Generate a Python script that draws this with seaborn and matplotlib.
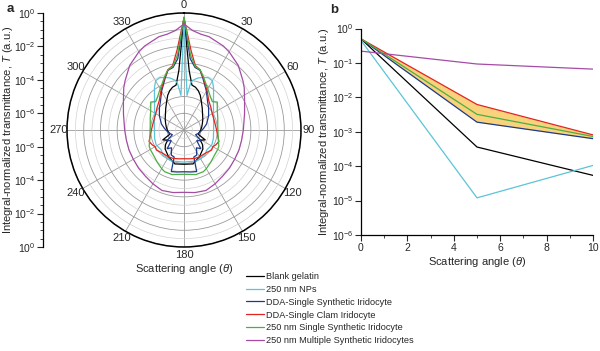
import numpy as np
import pandas as pd
import matplotlib
matplotlib.use("Agg")
import matplotlib.pyplot as plt
import seaborn as sns
from matplotlib.ticker import FixedLocator, MultipleLocator, NullFormatter

sns.set_theme(style="white")
plt.rcParams['font.family'] = ['Liberation Sans', 'DejaVu Sans']
plt.rcParams['mathtext.fontset'] = 'custom'
plt.rcParams['mathtext.rm'] = 'Liberation Sans'
plt.rcParams['mathtext.it'] = 'Liberation Sans:italic'

# series
labels = ["Blank gelatin", "250 nm NPs", "DDA-Single Synthetic Iridocyte",
          "DDA-Single Clam Iridocyte", "250 nm Single Synthetic Iridocyte",
          "250 nm Multiple Synthetic Iridocytes"]
colors = ["#000000", "#5bc4d8", "#1d3a8a", "#e3241d", "#4cae44", "#a54ca5"]

# panel a : angle (deg, 0-180, mirrored) and log10(T)
ang_blank = [0, 5, 10, 15, 20, 25, 30, 40, 50, 60, 70, 80, 90, 100, 107, 115, 122, 128, 135, 150, 165, 180]
exp_blank = [-0.3, -3.44, -4.27, -4.35, -4.5, -4.7, -4.95, -5.3, -5.55, -5.7, -5.83, -5.92, -6.0,
             -6.08, -6.1, -5.6, -5.85, -5.6, -5.4, -5.15, -4.9, -4.95]

ang_nps = [0, 5, 8, 10, 15, 20, 25, 30, 35, 40, 50, 60, 70, 80, 90, 106, 118, 131, 140, 150, 158, 180]
exp_nps = [-0.35, -4.92, -4.17, -3.98, -3.78, -3.65, -3.55, -3.6, -3.92, -4.25, -4.7, -4.96, -5.12,
           -5.2, -5.23, -5.17, -5.11, -5.19, -5.05, -5.05, -5.0, -5.08]

ang_dda_syn = [0, 5, 10, 15, 20, 30, 40, 48, 60, 75, 85, 95, 105, 112, 122, 130, 138, 145, 153, 160, 163, 170, 180]
exp_dda_syn = [-0.3, -2.72, -3.2, -3.3, -3.7, -4.32, -4.8, -5.02, -5.3, -5.6, -5.82, -6.0, -6.15,
               -6.25, -5.8, -6.0, -5.5, -5.7, -5.32, -5.28, -4.4, -4.45, -4.5]

ang_dda_clam = [0, 5, 10, 15, 20, 30, 40, 50, 60, 70, 80, 90, 100, 108, 115, 120, 126, 138, 149, 159, 170, 180]
exp_dda_clam = [-0.3, -2.21, -3.09, -3.27, -3.65, -4.25, -4.7, -4.9, -5.05, -5.1, -5.1, -5.05, -4.95,
                -4.8, -4.9, -5.0, -4.96, -5.12, -5.14, -5.18, -5.25, -5.28]

ang_single = [0, 5, 10, 15, 20, 25, 30, 35, 40, 45, 50, 60, 70, 80, 90, 100, 110, 115, 120, 130, 140, 150, 155, 165, 180]
exp_single = [-0.25, -2.5, -3.14, -3.27, -3.6, -3.92, -4.15, -4.35, -4.5, -4.6, -4.4, -4.7, -4.85,
              -4.95, -4.97, -4.93, -4.8, -4.7, -4.67, -4.63, -4.5, -4.33, -4.25, -4.24, -4.35]

ang_multi = [0, 5, 10, 15, 25, 30, 40, 50, 55, 65, 75, 90, 100, 110, 120, 130, 140, 150, 160, 170, 180]
exp_multi = [-0.66, -1.03, -1.18, -1.22, -1.45, -1.6, -1.95, -2.4, -2.6, -3.0, -3.25, -3.45, -3.5,
             -3.5, -3.5, -3.45, -3.4, -3.28, -3.15, -3.2, -3.27]

# panel b
angle_b = [0, 5, 10]
b_blank = [0.5, 3.6e-4, 5.4e-5]
b_nps = [0.45, 1.2e-5, 1.05e-4]
b_dda_syn = [0.5, 1.9e-3, 6.3e-4]
b_dda_clam = [0.5, 6.2e-3, 8.1e-4]
b_single = [0.5, 3.2e-3, 7.3e-4]
b_multi = [0.22, 0.093, 0.066]

theta_ticks = list(range(0, 360, 30))

polar_sets = [(ang_blank, exp_blank), (ang_nps, exp_nps), (ang_dda_syn, exp_dda_syn),
              (ang_dda_clam, exp_dda_clam), (ang_single, exp_single), (ang_multi, exp_multi)]
b_sets = [b_blank, b_nps, b_dda_syn, b_dda_clam, b_single, b_multi]

fig = plt.figure(figsize=(6, 3.51), dpi=100)
fs = 8
tfs = 7.5
ylab = "Integral-normalized transmittance, $T$ (a.u.)"

# ---- panel a (polar)
ax = fig.add_axes([67/600, 1-247/351, 234/600, 234/351], projection='polar')
ax.set_theta_zero_location('N')
ax.set_theta_direction(-1)
handles = []
for (a, e), c in zip(polar_sets, colors):
    a = list(a)
    full = a + [360 - x for x in reversed(a[:-1])]
    ev = list(e) + list(reversed(e[:-1]))
    T = 10.0 ** np.array(ev)
    h, = ax.plot(np.deg2rad(full), T, color=c, lw=0.9)
    handles.append(h)
ax.set_rscale('log')
ax.set_rlim(1e-7, 1)
ax.yaxis.set_major_locator(FixedLocator(10.0 ** np.arange(-7, 1)))
ax.yaxis.set_minor_locator(FixedLocator(10.0 ** np.arange(-6.5, 0, 1)))
ax.yaxis.set_major_formatter(NullFormatter())
ax.yaxis.set_minor_formatter(NullFormatter())
ax.yaxis.grid(True, which='major', color='#9a9a9a', lw=0.6)
ax.yaxis.grid(True, which='minor', color='#d2d2d2', lw=0.5)
ax.set_thetagrids(theta_ticks, [""] * len(theta_ticks))
ax.xaxis.grid(True, color='#9a9a9a', lw=0.6)
for d in theta_ticks:
    # labels just outside the rim
    ax.text(np.deg2rad(d), 10 ** 0.48, str(d), ha='center', va='center',
            fontsize=fs, clip_on=False)
ax.spines['polar'].set_color('black')
ax.spines['polar'].set_linewidth(1.1)

# left mirrored radial axis
axl = fig.add_axes([43/600, 1-247/351, 0.0001, 234/351])
axl.set_ylim(-7, 7)
axl.set_facecolor('none')
for s in ['top', 'right', 'bottom']:
    axl.spines[s].set_visible(False)
axl.spines['left'].set_color('black')
axl.spines['left'].set_linewidth(0.9)
axl.set_xticks([])
axl.set_yticks([-7, -5, -3, -1, 1, 3, 5, 7])
axl.set_yticklabels([r"$10^{0}$", r"$10^{-2}$", r"$10^{-4}$", r"$10^{-6}$",
                     r"$10^{-6}$", r"$10^{-4}$", r"$10^{-2}$", r"$10^{0}$"], fontsize=tfs)
axl.yaxis.set_minor_locator(MultipleLocator(0.5))
axl.tick_params(axis='y', which='major', direction='out', length=4, width=0.8, pad=1.5, left=True)
axl.tick_params(axis='y', which='minor', direction='out', length=2, width=0.6, left=True)
fig.text(0.013, 0.63, ylab, rotation=90, ha='center', va='center', fontsize=fs)
fig.text(184/600, 1-269/351, r"Scattering angle ($\theta$)", ha='center', va='center', fontsize=fs)

# ---- panel b
rows = []
for lab, vals in zip(labels, b_sets):
    for x, v in zip(angle_b, vals):
        rows.append({"angle": x, "T": v, "series": lab})
df = pd.DataFrame(rows)
axb = fig.add_axes([361/600, 1-235/351, 232/600, 206.5/351])
axb.fill_between(angle_b, b_dda_syn, b_dda_clam, color="#f9d27c", lw=0)
sns.lineplot(data=df, x="angle", y="T", hue="series", hue_order=labels,
             palette=colors, ax=axb, legend=False, lw=0.9, estimator=None, sort=False)
axb.set_yscale('log')
axb.set_ylim(1e-6, 1)
axb.set_xlim(0, 10)
axb.set_xticks([0, 2, 4, 6, 8, 10])
axb.xaxis.set_minor_locator(MultipleLocator(1))
axb.yaxis.set_minor_locator(FixedLocator([]))
axb.set_yticks(10.0 ** np.arange(-6, 1))
axb.set_yticklabels([r"$10^{%d}$" % k for k in range(-6, 1)])
for s in ['top', 'right']:
    axb.spines[s].set_visible(False)
for s in ['left', 'bottom']:
    axb.spines[s].set_color('black')
    axb.spines[s].set_linewidth(0.9)
axb.tick_params(axis='both', which='major', direction='out', length=4, width=0.8,
                labelsize=tfs, pad=1.5, left=True, bottom=True)
axb.tick_params(axis='x', which='minor', direction='out', length=2, width=0.6, bottom=True)
axb.set_ylabel(ylab, fontsize=fs, labelpad=0.5)
axb.set_xlabel(r"Scattering angle ($\theta$)", fontsize=fs, labelpad=2)

fig.text(7/600, 1-9/351, "a", fontsize=9.5, weight='bold', ha='left', va='center')
fig.text(330/600, 1-10/351, "b", fontsize=9.5, weight='bold', ha='left', va='center')

fig.legend(handles, labels, loc='upper left', bbox_to_anchor=(246/600, 1-272/351),
           frameon=False, fontsize=6.6, handlelength=2.0, handletextpad=0.2,
           labelspacing=0.42, borderaxespad=0, borderpad=0)

fig.savefig("out.png", dpi=100)
